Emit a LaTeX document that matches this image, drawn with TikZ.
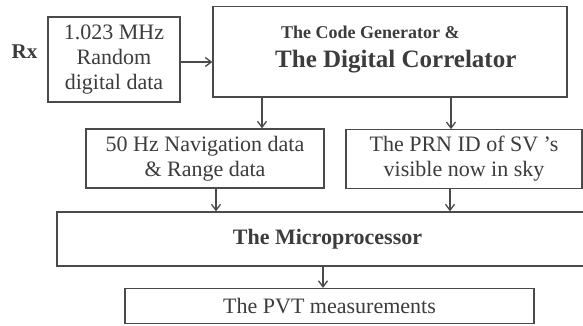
\documentclass[tikz,border=0pt]{standalone}
\usepackage{fontspec}
\setmainfont{Liberation Serif}
\usetikzlibrary{arrows.meta}
\definecolor{ink}{HTML}{3C3C3C}
\definecolor{edge}{HTML}{4A4A4A}
\tikzset{
  box/.style={draw=edge, line width=1.3pt, inner sep=0pt, text=ink, align=center,
    font=\fontsize{22}{25}\selectfont},
  arr/.style={draw=edge, line width=1.3pt, -{Straight Barb[length=6pt,width=9pt,line width=1.3pt]}},
  lbl/.style={inner sep=0pt, text=ink}
}
\begin{document}
\begin{tikzpicture}[x=1pt,y=-1pt]
\useasboundingbox (0,0) rectangle (583,325);
\clip (0,0) rectangle (583,325);
\fill[white] (0,0) rectangle (583,325);
% boxes
\node[box, minimum width=132pt, minimum height=85pt] (b1) at (114,59.5) {1.023 MHz\\Random\\digital data};
\node[box, minimum width=354pt, minimum height=90.5pt] (cg) at (390,51.75) {};
\node[box, minimum width=238pt, minimum height=59pt] (nav) at (205,158.5) {50 Hz Navigation data\\\& Range data};
\node[box, minimum width=236pt, minimum height=58.5pt] (prn) at (464,159) {The PRN ID of SV ’s\\visible now in sky};
\node[box, minimum width=541pt, minimum height=54pt, font=\fontsize{22}{25}\selectfont\bfseries] (mp) at (327.5,239) {The Microprocessor};
\node[box, minimum width=409pt, minimum height=35pt] (pvt) at (329.5,306) {The PVT measurements};
% labels
\node[lbl, anchor=base, font=\fontsize{21}{24}\selectfont\bfseries] (rx) at (24.5,58) {Rx};
\node[lbl, anchor=base west, font=\fontsize{18}{20}\selectfont\bfseries] (cg1) at (281,38) {The Code Generator \&};
\node[lbl, anchor=base west, font=\fontsize{25}{28}\selectfont\bfseries] (cg2) at (275,67) {The Digital Correlator};
% arrow x positions
\coordinate (xa) at (262,0);
\coordinate (xb) at (451,0);
\coordinate (xc) at (216,0);
\coordinate (xd) at (450,0);
\coordinate (xe) at (323,0);
\coordinate (ya) at (0,62);
% connectors
\draw[arr] (b1.east |- ya) -- (cg.west |- ya);
\draw[arr] (cg.south -| xa) -- (nav.north -| xa);
\draw[arr] (cg.south -| xb) -- (prn.north -| xb);
\draw[arr] (nav.south -| xc) -- (mp.north -| xc);
\draw[arr] (prn.south -| xd) -- (mp.north -| xd);
\draw[arr] (mp.south -| xe) -- (pvt.north -| xe);
\end{tikzpicture}
\end{document}
